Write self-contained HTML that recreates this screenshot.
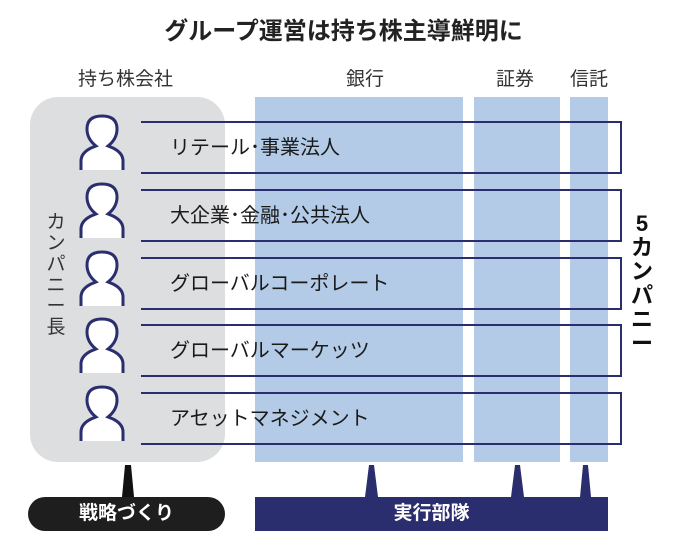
<!DOCTYPE html><html><head><meta charset="utf-8"><style>
body{margin:0;width:687px;height:552px;background:#fff;position:relative;overflow:hidden;font-family:"Liberation Sans","Noto Sans CJK JP",sans-serif;color:#222}
.a{position:absolute}
.row{position:absolute;left:141px;width:481px;height:53px;border:2px solid #2b2e6e;border-left:none;box-sizing:border-box}
.t{position:absolute;left:170px;font-size:20px;line-height:20px;color:#1a1a1a}
.h{position:absolute;top:64px;font-size:19px;color:#333}
</style></head><body>
<div class="a" style="top:11px;left:0;width:687px;text-align:center;font-size:24px;font-weight:bold">グループ運営は持ち株主導鮮明に</div>
<div class="h" style="left:78px">持ち株会社</div>
<div class="h" style="left:346px">銀行</div>
<div class="h" style="left:496px">証券</div>
<div class="h" style="left:570px">信託</div>
<div class="a" style="left:30px;top:97px;width:195px;height:365px;background:#dcdee0;border-radius:28px"></div>
<div class="a" style="left:255px;top:97px;width:208px;height:365px;background:#b3cbe7"></div>
<div class="a" style="left:474px;top:97px;width:86px;height:365px;background:#b3cbe7"></div>
<div class="a" style="left:570px;top:97px;width:38px;height:365px;background:#b3cbe7"></div>
<div class="a" style="left:44px;top:212px;width:24px;font-size:19px;line-height:21px;text-align:center;color:#333">カ<br>ン<br>パ<br>ニ<br>ー<br>長</div>
<div class="a" style="left:628px;top:212px;width:28px;font-size:22px;line-height:24px;text-align:center;font-weight:bold;color:#111">5<br>カ<br>ン<br>パ<br>ニ<br>ー</div>
<div class="row" style="top:121px"></div><div class="t" style="top:138px">リテール･事業法人</div>
<div class="row" style="top:189px"></div><div class="t" style="top:206px">大企業･金融･公共法人</div>
<div class="row" style="top:257px"></div><div class="t" style="top:274px">グローバルコーポレート</div>
<div class="row" style="top:324px"></div><div class="t" style="top:341px">グローバルマーケッツ</div>
<div class="row" style="top:392px"></div><div class="t" style="top:409px">アセットマネジメント</div>
<svg class="a" style="left:0;top:0" width="687" height="552">
<defs><g id="p"><path d="M0 54 V45 Q0 37 10 32 L15 30 Q6 23 6 13 Q6 0 21 0 Q36 0 36 13 Q36 23 27 30 L32 32 Q42 37 42 45 V54" fill="#fff" stroke="#2b2e6e" stroke-width="3"/></g></defs>
<use href="#p" x="81" y="116"/><use href="#p" x="81" y="184"/><use href="#p" x="81" y="252"/><use href="#p" x="81" y="319"/><use href="#p" x="81" y="387"/>
<polygon points="125,465 131,465 134,497 122,497" fill="#111"/>
<polygon points="369,465 374,465 378,497 365,497" fill="#2b2e6e"/>
<polygon points="515,465 520,465 524,497 511,497" fill="#2b2e6e"/>
<polygon points="583,465 588,465 591,497 580,497" fill="#2b2e6e"/>
</svg>
<div class="a" style="left:28px;top:497px;width:197px;height:34px;background:#1e1e1e;border-radius:17px;color:#fff;font-weight:bold;font-size:19px;text-align:center;line-height:34px">戦略づくり</div>
<div class="a" style="left:255px;top:497px;width:353px;height:34px;background:#2b2e6e;color:#fff;font-weight:bold;font-size:19px;text-align:center;line-height:34px">実行部隊</div>
</body></html>
